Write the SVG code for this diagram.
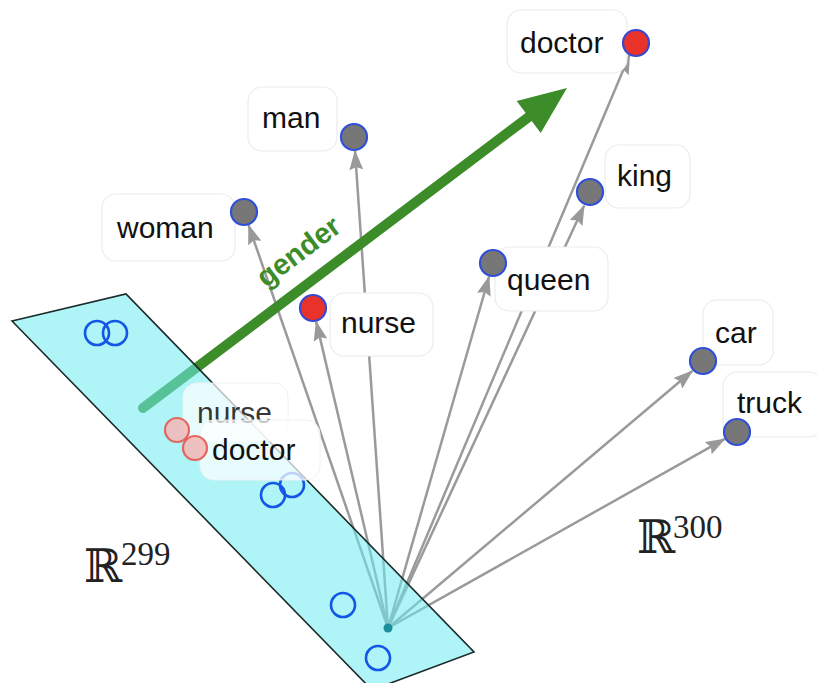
<svg xmlns="http://www.w3.org/2000/svg" width="817" height="683" viewBox="0 0 817 683">
  <defs>
    <marker id="head" viewBox="0 0 20 14" refX="19" refY="7" markerWidth="20" markerHeight="14" markerUnits="userSpaceOnUse" orient="auto">
      <path d="M0,0 L20,7 L0,14 L3,7 z" fill="#999"/>
    </marker>
    <style>
      .vec { stroke: #9a9a9a; stroke-width: 2.5; fill: none; marker-end: url(#head); }
      .box { fill: #fff; stroke: #ececec; stroke-width: 1.2; }
      .ghost { fill: #fff; fill-opacity: 0.72; stroke: #f0f0f0; stroke-width: 1; }
      .lbl { font-family: "Liberation Sans", Arial, sans-serif; font-size: 30px; fill: #111; }
      .word { fill: #777; stroke: #2f4fd8; stroke-width: 2.2; }
      .word-red { fill: #e8322a; stroke: #3848d0; stroke-width: 2.2; }
      .proj { fill: none; stroke: #1456e6; stroke-width: 2.6; }
      .proj-red { fill: #f6b6b6; fill-opacity: 0.85; stroke: #e24a40; stroke-width: 2.2; stroke-opacity: 0.8; }
      .math { font-family: "DejaVu Serif", serif; fill: #222; }
      .sup { font-family: "Liberation Serif", serif; fill: #222; }
    </style>
  </defs>

  <rect width="817" height="683" fill="#fff"/>

  <!-- vectors from the origin to each word -->
  <g id="connectors">
    <line class="vec" x1="388" y1="628" x2="248.6" y2="225.2"/>
    <line class="vec" x1="388" y1="628" x2="355.0" y2="151.0"/>
    <line class="vec" x1="388" y1="628" x2="316.2" y2="321.6"/>
    <line class="vec" x1="388" y1="628" x2="489.1" y2="276.5"/>
    <line class="vec" x1="388" y1="628" x2="584.1" y2="205.7"/>
    <line class="vec" x1="388" y1="628" x2="629.6" y2="54.9"/>
    <line class="vec" x1="388" y1="628" x2="692.3" y2="371.0"/>
    <line class="vec" x1="388" y1="628" x2="724.8" y2="438.9"/>
    <!-- gender direction -->
    <g id="gender">
      <line x1="143" y1="408" x2="530" y2="116" stroke="#3d8c2a" stroke-width="10" stroke-linecap="round"/>
      <path d="M567,88 L540.7,132.9 L516.7,100.9 z" fill="#3d8c2a"/>
      <text transform="translate(299,252) rotate(-37)" y="9" text-anchor="middle" font-family="Liberation Sans, Arial, sans-serif" font-size="29" font-weight="bold" fill="#3d8c2a">gender</text>
    </g>
  </g>

  <!-- the 299-dimensional subspace -->
  <g id="plane">
    <polygon points="12,321 126,294 474,652 372,690" fill="#6decf2" fill-opacity="0.55"/>
    <polygon points="12,321 126,294 474,652 372,690" fill="none" stroke="#1c2a2a" stroke-width="1.6"/>
  </g>

  <g id="projections">
    <circle class="proj" cx="97" cy="333" r="12"/>
    <circle class="proj" cx="115" cy="333" r="12"/>
    <circle class="proj" cx="273" cy="495" r="12"/>
    <circle class="proj" cx="292" cy="485" r="12"/>
    <circle class="proj" cx="343" cy="605" r="12"/>
    <circle class="proj" cx="378" cy="658" r="12"/>
  </g>

  <g id="proj-nurse">
    <rect class="ghost" x="183" y="383" width="105" height="58" rx="14"/>
    <circle class="proj-red" cx="177" cy="430" r="12"/>
    <text class="lbl" x="197" y="423" fill-opacity="0.85">nurse</text>
  </g>
  <g id="proj-doctor">
    <rect class="ghost" x="200" y="420" width="120" height="60" rx="14"/>
    <circle class="proj-red" cx="195" cy="448" r="12"/>
    <text class="lbl" x="212" y="460">doctor</text>
  </g>

  <g id="origin">
    <circle cx="388" cy="628" r="4.5" fill="#1c8f9c"/>
  </g>

  <!-- word vectors in the full space -->
  <g id="doctor">
    <rect class="box" x="507" y="10" width="120" height="63" rx="14"/>
    <text class="lbl" x="520" y="53">doctor</text>
    <circle class="word-red" cx="636" cy="43" r="13"/>
  </g>
  <g id="man">
    <rect class="box" x="248" y="87" width="89" height="64" rx="14"/>
    <text class="lbl" x="262" y="128">man</text>
    <circle class="word" cx="354" cy="137" r="13"/>
  </g>
  <g id="woman">
    <rect class="box" x="102" y="194" width="133" height="67" rx="14"/>
    <text class="lbl" x="117" y="238">woman</text>
    <circle class="word" cx="244" cy="212" r="13"/>
  </g>
  <g id="nurse">
    <rect class="box" x="330" y="293" width="103" height="63" rx="14"/>
    <text class="lbl" x="341" y="333">nurse</text>
    <circle class="word-red" cx="313" cy="308" r="13"/>
  </g>
  <g id="queen">
    <rect class="box" x="495" y="247" width="113" height="64" rx="14"/>
    <text class="lbl" x="507" y="290">queen</text>
    <circle class="word" cx="493" cy="263" r="13"/>
  </g>
  <g id="king">
    <rect class="box" x="605" y="145" width="85" height="63" rx="14"/>
    <text class="lbl" x="617" y="186">king</text>
    <circle class="word" cx="590" cy="192" r="13"/>
  </g>
  <g id="car">
    <rect class="box" x="703" y="300" width="70" height="65" rx="14"/>
    <text class="lbl" x="715" y="343">car</text>
    <circle class="word" cx="703" cy="361" r="13"/>
  </g>
  <g id="truck">
    <rect class="box" x="723" y="372" width="100" height="65" rx="14"/>
    <text class="lbl" x="737" y="413">truck</text>
    <circle class="word" cx="737" cy="432" r="13"/>
  </g>

  <!-- space labels -->
  <g id="r299">
    <text class="math" x="84" y="582" font-size="46">ℝ</text>
    <text class="sup" x="121" y="565" font-size="33">299</text>
  </g>
  <g id="r300">
    <text class="math" x="637" y="553" font-size="46">ℝ</text>
    <text class="sup" x="673" y="538" font-size="33">300</text>
  </g>
</svg>
